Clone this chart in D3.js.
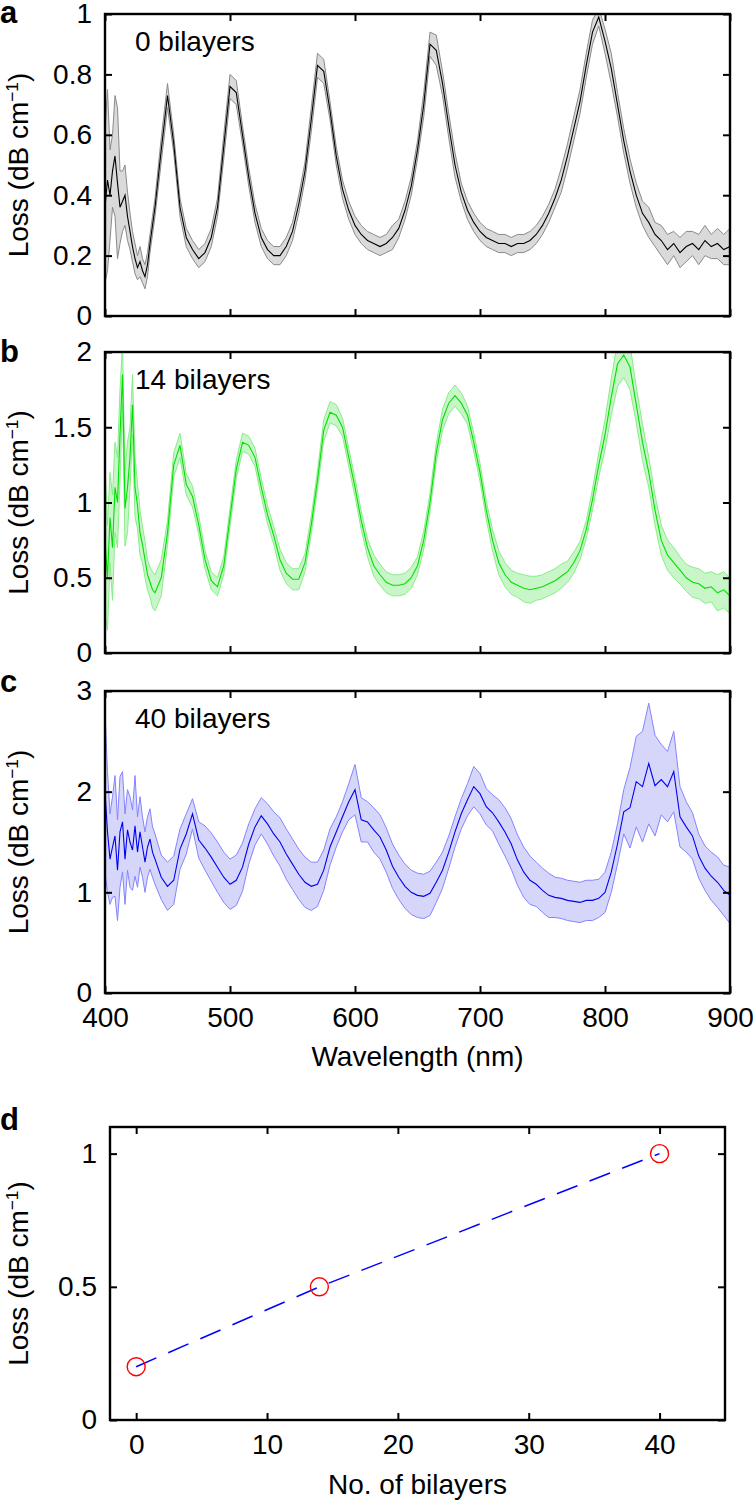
<!DOCTYPE html>
<html>
<head>
<meta charset="utf-8">
<script src="https://d3js.org/d3.v7.min.js"></script>
<style>
  body { margin: 0; background: #fff; }
  svg { display: block; font-family: "Liberation Sans", Arial, sans-serif; }
</style>
</head>
<body>
<svg id="chart"></svg>
<script>
// wavelength grid (nm): 2 nm steps in the noisy start, then 5 nm
const wavelength = [
  400, 402, 404, 406, 408, 410, 412, 414, 416, 418, 420, 422, 424, 426, 428, 430, 432, 434, 436, 438, 440,
  445, 450, 455, 460, 465, 470, 475, 480, 485, 490, 495,
  500, 505, 510, 515, 520, 525, 530, 535, 540, 545,
  550, 555, 560, 565, 570, 575, 580, 585, 590, 595,
  600, 605, 610, 615, 620, 625, 630, 635, 640, 645,
  650, 655, 660, 665, 670, 675, 680, 685, 690, 695,
  700, 705, 710, 715, 720, 725, 730, 735, 740, 745,
  750, 755, 760, 765, 770, 775, 780, 785, 790, 795,
  800, 805, 810, 815, 820, 825, 830, 835, 840, 845,
  850, 855, 860, 865, 870, 875, 880, 885, 890, 895,
  900
];

// 0 bilayers
const loss0 = [
  0.36, 0.45, 0.40, 0.48, 0.53, 0.44, 0.36, 0.38, 0.40, 0.33, 0.28, 0.23, 0.19, 0.16, 0.18, 0.15, 0.13, 0.17, 0.24, 0.30, 0.36,
  0.55, 0.73, 0.57, 0.36, 0.26, 0.22, 0.19, 0.21, 0.26, 0.36, 0.56,
  0.76, 0.74, 0.60, 0.46, 0.34, 0.26, 0.22, 0.20, 0.20, 0.23,
  0.28, 0.37, 0.48, 0.65, 0.83, 0.81, 0.68, 0.53, 0.42, 0.35,
  0.30, 0.27, 0.25, 0.24, 0.23, 0.24, 0.26, 0.29, 0.35, 0.43,
  0.55, 0.70, 0.90, 0.88, 0.77, 0.63, 0.50, 0.41, 0.35, 0.31,
  0.28, 0.26, 0.25, 0.24, 0.24, 0.23, 0.24, 0.24, 0.25, 0.27,
  0.30, 0.34, 0.39, 0.45, 0.53, 0.62, 0.71, 0.83, 0.94, 0.99,
  0.91, 0.82, 0.70, 0.58, 0.48, 0.40, 0.34, 0.31, 0.27, 0.25,
  0.22, 0.24, 0.21, 0.23, 0.24, 0.22, 0.25, 0.23, 0.24, 0.22,
  0.23
];
const err0 = [
  0.25, 0.30, 0.15, 0.12, 0.20, 0.25, 0.12, 0.10, 0.10, 0.08, 0.06, 0.05, 0.05, 0.04, 0.05, 0.04, 0.04, 0.04, 0.03, 0.03, 0.03,
  0.04, 0.04, 0.03, 0.03, 0.03, 0.03, 0.03, 0.03, 0.03, 0.03, 0.04,
  0.04, 0.04, 0.03, 0.03, 0.03, 0.03, 0.03, 0.03, 0.03, 0.03,
  0.03, 0.03, 0.03, 0.04, 0.04, 0.04, 0.03, 0.03, 0.03, 0.03,
  0.03, 0.03, 0.03, 0.03, 0.03, 0.03, 0.04, 0.03, 0.03, 0.03,
  0.03, 0.04, 0.04, 0.05, 0.04, 0.04, 0.04, 0.03, 0.03, 0.03,
  0.03, 0.03, 0.03, 0.03, 0.03, 0.03, 0.03, 0.03, 0.03, 0.03,
  0.03, 0.03, 0.03, 0.04, 0.04, 0.04, 0.04, 0.04, 0.04, 0.03,
  0.04, 0.05, 0.04, 0.04, 0.04, 0.04, 0.04, 0.05, 0.04, 0.05,
  0.05, 0.04, 0.05, 0.05, 0.04, 0.05, 0.05, 0.04, 0.05, 0.05,
  0.06
];

// 14 bilayers
const loss14 = [
  0.75, 0.50, 0.90, 0.70, 1.10, 1.00, 1.45, 1.85, 0.96, 1.10, 1.30, 1.65, 1.10, 0.98, 0.80, 0.72, 0.62, 0.52, 0.47, 0.42, 0.40,
  0.50, 0.80, 1.25, 1.38, 1.12, 1.04, 0.85, 0.62, 0.48, 0.44, 0.58,
  0.90, 1.22, 1.40, 1.38, 1.30, 1.10, 0.92, 0.78, 0.62, 0.53,
  0.49, 0.49, 0.60, 0.85, 1.15, 1.48, 1.60, 1.58, 1.50, 1.30,
  1.10, 0.88, 0.70, 0.58, 0.52, 0.47, 0.45, 0.45, 0.46, 0.50,
  0.58, 0.75, 1.00, 1.33, 1.55, 1.66, 1.71, 1.66, 1.58, 1.40,
  1.20, 0.95, 0.75, 0.60, 0.52, 0.47, 0.45, 0.43, 0.42, 0.43,
  0.44, 0.46, 0.48, 0.51, 0.54, 0.60, 0.68, 0.82, 1.02, 1.25,
  1.45, 1.70, 1.92, 1.98, 1.90, 1.65, 1.40, 1.20, 0.95, 0.75,
  0.65, 0.60, 0.55, 0.50, 0.47, 0.46, 0.43, 0.44, 0.40, 0.42,
  0.38
];
const err14 = [
  0.50, 0.35, 0.30, 0.35, 0.30, 0.30, 0.30, 0.20, 0.25, 0.30, 0.20, 0.20, 0.20, 0.15, 0.15, 0.12, 0.12, 0.10, 0.10, 0.12, 0.12,
  0.12, 0.08, 0.08, 0.08, 0.07, 0.07, 0.06, 0.06, 0.06, 0.06, 0.06,
  0.06, 0.06, 0.06, 0.06, 0.06, 0.06, 0.06, 0.06, 0.07, 0.07,
  0.07, 0.07, 0.06, 0.06, 0.06, 0.07, 0.07, 0.07, 0.06, 0.06,
  0.06, 0.06, 0.06, 0.07, 0.07, 0.07, 0.07, 0.07, 0.07, 0.07,
  0.06, 0.06, 0.06, 0.06, 0.07, 0.07, 0.07, 0.07, 0.06, 0.06,
  0.06, 0.06, 0.07, 0.08, 0.08, 0.08, 0.08, 0.09, 0.09, 0.08,
  0.08, 0.08, 0.08, 0.08, 0.07, 0.07, 0.06, 0.06, 0.07, 0.08,
  0.10, 0.12, 0.15, 0.15, 0.15, 0.12, 0.12, 0.10, 0.10, 0.10,
  0.10, 0.10, 0.09, 0.09, 0.10, 0.10, 0.10, 0.10, 0.12, 0.12,
  0.12
];

// 40 bilayers
const loss40 = [
  2.00, 1.60, 1.33, 1.45, 1.56, 1.22, 1.60, 1.70, 1.33, 1.62, 1.50, 1.42, 1.66, 1.40, 1.60, 1.45, 1.30, 1.45, 1.53, 1.40, 1.33,
  1.15, 1.06, 1.12, 1.43, 1.58, 1.78, 1.52, 1.44, 1.35, 1.25, 1.15,
  1.08, 1.12, 1.25, 1.48, 1.65, 1.76, 1.68, 1.58, 1.50, 1.38,
  1.28, 1.18, 1.10, 1.06, 1.08, 1.22, 1.45, 1.60, 1.75, 1.90,
  2.02, 1.72, 1.70, 1.62, 1.55, 1.42, 1.26, 1.15, 1.06, 1.00,
  0.97, 0.96, 0.99, 1.10, 1.22, 1.40, 1.60, 1.78, 1.92, 2.05,
  1.98, 1.85, 1.79, 1.70, 1.60, 1.48, 1.32, 1.20, 1.12, 1.08,
  1.02, 0.97, 0.95, 0.94, 0.92, 0.91, 0.90, 0.92, 0.92, 0.94,
  1.00, 1.20, 1.48, 1.80, 1.84, 2.10, 2.05, 2.28, 2.06, 2.12,
  2.05, 2.20, 1.75, 1.65, 1.56, 1.36, 1.24, 1.16, 1.10, 1.02,
  0.97
];
const err40 = [
  0.80, 0.60, 0.45, 0.50, 0.60, 0.50, 0.55, 0.50, 0.45, 0.40, 0.45, 0.40, 0.50, 0.35, 0.35, 0.30, 0.30, 0.30, 0.30, 0.25, 0.25,
  0.22, 0.24, 0.24, 0.20, 0.20, 0.15, 0.18, 0.22, 0.24, 0.25, 0.25,
  0.25, 0.25, 0.24, 0.20, 0.18, 0.18, 0.20, 0.22, 0.24, 0.25,
  0.25, 0.25, 0.25, 0.24, 0.22, 0.20, 0.18, 0.15, 0.15, 0.18,
  0.25, 0.22, 0.20, 0.22, 0.22, 0.22, 0.22, 0.22, 0.22, 0.22,
  0.22, 0.22, 0.22, 0.20, 0.18, 0.16, 0.15, 0.15, 0.16, 0.20,
  0.20, 0.18, 0.18, 0.22, 0.24, 0.25, 0.25, 0.25, 0.24, 0.22,
  0.22, 0.22, 0.20, 0.20, 0.20, 0.20, 0.20, 0.20, 0.20, 0.19,
  0.20, 0.20, 0.20, 0.22, 0.40, 0.45, 0.55, 0.60, 0.50, 0.35,
  0.35, 0.40, 0.30, 0.25, 0.23, 0.22, 0.22, 0.24, 0.25, 0.25,
  0.28
];

// panel d
const bilayers = [0, 14, 40];
const avgLoss = [0.2, 0.5, 1.0];

const wlTicks = [400, 500, 600, 700, 800, 900];

const W = 753, H = 1504;
const svg = d3.select("#chart").attr("width", W).attr("height", H);
const FS = 28;

const left = 105, right = 730;
const x = d3.scaleLinear().domain([400, 900]).range([left, right]);

const panels = [
  {id: "a", label: "0 bilayers", mean: loss0, err: err0, top: 14, bottom: 316, ymax: 1,
   yticks: [0, 0.2, 0.4, 0.6, 0.8, 1], line: "#000000", band: "#dadada", edge: "#8a8a8a", letterY: 23},
  {id: "b", label: "14 bilayers", mean: loss14, err: err14, top: 352, bottom: 653, ymax: 2,
   yticks: [0, 0.5, 1, 1.5, 2], line: "#00e000", band: "#c9f6c9", edge: "#86ee86", letterY: 362},
  {id: "c", label: "40 bilayers", mean: loss40, err: err40, top: 691, bottom: 993, ymax: 3,
   yticks: [0, 1, 2, 3], line: "#0000f0", band: "#d6d6fb", edge: "#8484ff", letterY: 692}
];

function styleAxis(g) {
  g.select(".domain").remove();
  g.selectAll(".tick line").attr("stroke", "#000").attr("stroke-width", 2);
  g.selectAll(".tick text").attr("font-size", FS).attr("fill", "#000")
    .attr("font-family", "'Liberation Sans', Arial, sans-serif");
}

// inward ticks on all four sides, labels on left (and bottom if asked)
function drawFrame(xs, ys, xt, yt, showX) {
  const [x0, x1] = xs.range();
  const [y0, y1] = ys.range();
  const g = svg.append("g");
  g.append("g").attr("transform", `translate(0,${y0})`)
    .call(d3.axisBottom(xs).tickValues(xt).tickSizeInner(-7).tickSizeOuter(0).tickPadding(14)
      .tickFormat(showX ? d => d : ""))
    .call(styleAxis);
  g.append("g").attr("transform", `translate(0,${y1})`)
    .call(d3.axisTop(xs).tickValues(xt).tickSizeInner(-7).tickSizeOuter(0).tickFormat(""))
    .call(styleAxis);
  g.append("g").attr("transform", `translate(${x0},0)`)
    .call(d3.axisLeft(ys).tickValues(yt).tickSizeInner(-7).tickSizeOuter(0).tickPadding(13)
      .tickFormat(d => d))
    .call(styleAxis);
  g.append("g").attr("transform", `translate(${x1},0)`)
    .call(d3.axisRight(ys).tickValues(yt).tickSizeInner(-7).tickSizeOuter(0).tickFormat(""))
    .call(styleAxis);
  g.append("rect").attr("x", x0).attr("y", y1).attr("width", x1 - x0).attr("height", y0 - y1)
    .attr("fill", "none").attr("stroke", "#000").attr("stroke-width", 2.4);
}

function yLabel(cy) {
  const t = svg.append("text")
    .attr("transform", `translate(28,${cy}) rotate(-90)`)
    .attr("text-anchor", "middle").attr("font-size", FS).attr("fill", "#000");
  t.append("tspan").text("Loss (dB cm");
  t.append("tspan").attr("baseline-shift", "super").attr("font-size", FS * 0.62).text("\u22121");
  t.append("tspan").text(")");
}

function panelLetter(txt, yb) {
  svg.append("text").attr("x", 0).attr("y", yb).attr("font-size", 31)
    .attr("font-weight", "bold").attr("fill", "#000").text(txt);
}

panels.forEach(p => {
  const y = d3.scaleLinear().domain([0, p.ymax]).range([p.bottom, p.top]);
  const rows = wavelength.map((w, i) => ({w, m: p.mean[i], lo: p.mean[i] - p.err[i], hi: p.mean[i] + p.err[i]}));

  svg.append("clipPath").attr("id", "clip-" + p.id)
    .append("rect").attr("x", left).attr("y", p.top).attr("width", right - left).attr("height", p.bottom - p.top);

  const plot = svg.append("g").attr("clip-path", `url(#clip-${p.id})`);

  plot.append("path").datum(rows)
    .attr("fill", p.band)
    .attr("d", d3.area().x(d => x(d.w)).y0(d => y(d.lo)).y1(d => y(d.hi)));
  ["lo", "hi"].forEach(k => {
    plot.append("path").datum(rows)
      .attr("fill", "none").attr("stroke", p.edge).attr("stroke-width", 1)
      .attr("d", d3.line().x(d => x(d.w)).y(d => y(d[k])));
  });
  plot.append("path").datum(rows)
    .attr("fill", "none").attr("stroke", p.line).attr("stroke-width", 1.1)
    .attr("d", d3.line().x(d => x(d.w)).y(d => y(d.m)));

  drawFrame(x, y, wlTicks, p.yticks, p.id === "c");

  svg.append("text").attr("x", 135).attr("y", p.top + 37).attr("font-size", FS).attr("fill", "#000")
    .text(p.label);

  yLabel((p.top + p.bottom) / 2);
  panelLetter(p.id, p.letterY);
});

svg.append("text").attr("x", (left + right) / 2).attr("y", 1066).attr("text-anchor", "middle")
  .attr("font-size", FS).attr("fill", "#000").text("Wavelength (nm)");

// panel d
const dTop = 1127, dBottom = 1420, dLeft = 110, dRight = 725;
const xd = d3.scaleLinear().domain([-2, 45]).range([dLeft, dRight]);
const yd = d3.scaleLinear().domain([0, 1.1]).range([dBottom, dTop]);
const pts = bilayers.map((b, i) => ({b, v: avgLoss[i]}));

svg.append("path").datum(pts)
  .attr("fill", "none").attr("stroke", "#0000ff").attr("stroke-width", 1.5)
  .attr("stroke-dasharray", "22,13")
  .attr("d", d3.line().x(d => xd(d.b)).y(d => yd(d.v)));

svg.append("g").selectAll("circle").data(pts).join("circle")
  .attr("cx", d => xd(d.b)).attr("cy", d => yd(d.v)).attr("r", 9)
  .attr("fill", "none").attr("stroke", "#ff0000").attr("stroke-width", 1.4);

drawFrame(xd, yd, [0, 10, 20, 30, 40], [0, 0.5, 1], true);
yLabel((dTop + dBottom) / 2);
panelLetter("d", 1130);

svg.append("text").attr("x", (dLeft + dRight) / 2).attr("y", 1494).attr("text-anchor", "middle")
  .attr("font-size", FS).attr("fill", "#000").text("No. of bilayers");
</script>
</body>
</html>
